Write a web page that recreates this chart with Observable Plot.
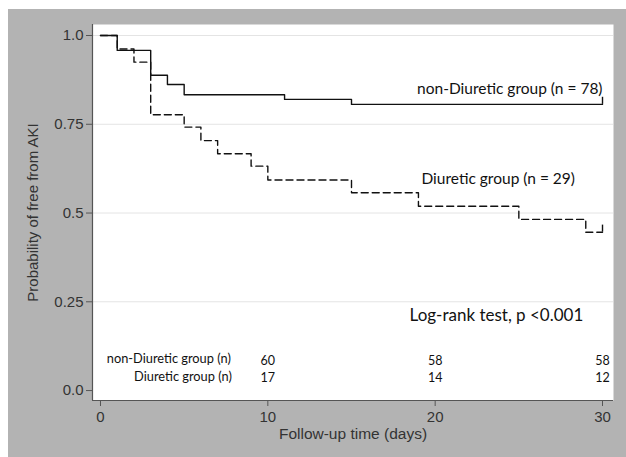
<!DOCTYPE html>
<html><head><meta charset="utf-8">
<script src="https://cdn.jsdelivr.net/npm/d3@7"></script>
<script src="https://cdn.jsdelivr.net/npm/@observablehq/plot@0.6"></script>
<style>
body{margin:0;background:#fff;}
#wrap{padding:9px 0 0 8px;}
</style></head><body><div id="wrap"></div>
<script>
// Kaplan-Meier step data (days, survival probability)
const nonDiureticTime = [0, 1, 3, 4, 5, 11, 15, 30];
const nonDiureticSurv = [1, 0.958, 0.888, 0.862, 0.833, 0.820, 0.806, 0.806];
const diureticTime = [0, 1, 2, 3, 5, 6, 7, 9, 10, 15, 19, 25, 29, 30];
const diureticSurv = [1, 0.962, 0.925, 0.777, 0.742, 0.704, 0.667, 0.632, 0.593, 0.557, 0.519, 0.482, 0.446, 0.446];
// censoring at end of follow-up
const censorTime = [30, 30];
const censorSurv = [0.806, 0.446];
// number at risk
const riskTimes = [10, 20, 30];
const riskNonDiuretic = [60, 58, 58];
const riskDiuretic = [17, 14, 12];
const riskRowLabels = ["non-Diuretic group (n)", "Diuretic group (n)"];
// axes
const xTicks = [0, 10, 20, 30];
const yTicks = [0, 0.25, 0.5, 0.75, 1];
const yTickLabels = ["0.0", "0.25", "0.5", "0.75", "1.0"];
const yGridValues = [0.25, 0.5, 0.75, 1];
const xLabel = "Follow-up time (days)";
const yLabel = "Probability of free from AKI";

const nonData = nonDiureticTime.map((t, i) => ({t, s: nonDiureticSurv[i]}));
const diuData = diureticTime.map((t, i) => ({t, s: diureticSurv[i]}));
const censorData = censorTime.map((t, i) => ({t, s: censorSurv[i]}));
const riskRow1 = riskTimes.map((t, i) => ({t, n: riskNonDiuretic[i]}));
const riskRow2 = riskTimes.map((t, i) => ({t, n: riskDiuretic[i]}));

const xMin = -0.478, xMax = 30.657, yMin = -0.028, yMax = 1.031;
const annFont = "Lato, 'Open Sans', sans-serif";
const ink = "#111";

const chart = Plot.plot({
  width: 618, height: 448,
  marginLeft: 84, marginRight: 13, marginTop: 15, marginBottom: 57,
  style: {background: "#b3b3b3", fontFamily: "'Liberation Sans', Arial, sans-serif", color: "#333", overflow: "visible"},
  x: {domain: [xMin, xMax]},
  y: {domain: [yMin, yMax]},
  marks: [
    Plot.frame({fill: "white", stroke: "none"}),
    Plot.ruleY(yGridValues, {stroke: "#e4e4e4", strokeWidth: 1}),
    Plot.ruleX([xMin], {stroke: "#555", strokeWidth: 1.2}),
    Plot.ruleY([yMin], {stroke: "#555", strokeWidth: 1.2}),
    Plot.axisY(yTicks, {tickFormat: d => yTickLabels[yTicks.indexOf(d)], tickSize: 6, tickPadding: 3, fontSize: 15, stroke: "#555", label: null}),
    Plot.axisX(xTicks, {tickSize: 6, tickPadding: 5, fontSize: 15, stroke: "#555", label: null}),
    Plot.text([yLabel], {frameAnchor: "left", dx: -59, rotate: -90, textAnchor: "middle", text: d => d, fontSize: 15, fill: "#333"}),
    Plot.text([xLabel], {frameAnchor: "bottom", dx: 0, dy: 38, textAnchor: "middle", text: d => d, fontSize: 15.5, fill: "#333"}),
    Plot.line(nonData, {x: "t", y: "s", curve: "step-after", stroke: ink, strokeWidth: 1.4}),
    Plot.line(diuData, {x: "t", y: "s", curve: "step-after", stroke: ink, strokeWidth: 1.4, strokeDasharray: "7,4"}),
    Plot.ruleX(censorData, {x: "t", y1: "s", y2: d => d.s + 0.02, stroke: ink, strokeWidth: 1.4}),
    Plot.text(["non-Diuretic group (n = 78)"], {x: 30, y: 0.848, text: d => d, textAnchor: "end", fontFamily: annFont, fontSize: 15.5, fill: ink}),
    Plot.text(["Diuretic group (n = 29)"], {x: 19.18, y: 0.597, text: d => d, textAnchor: "start", fontFamily: annFont, fontSize: 15.5, fill: ink}),
    Plot.text(["Log-rank test, p <0.001"], {x: 18.47, y: 0.211, text: d => d, textAnchor: "start", fontFamily: annFont, fontSize: 17, fill: ink}),
    Plot.text([riskRowLabels[0]], {x: 10, y: 0.088, text: d => d, textAnchor: "end", dx: -37, fontFamily: annFont, fontSize: 12.8, fill: ink}),
    Plot.text([riskRowLabels[1]], {x: 10, y: 0.038, text: d => d, textAnchor: "end", dx: -36, fontFamily: annFont, fontSize: 12.8, fill: ink}),
    Plot.text(riskRow1, {x: "t", y: 0.082, text: "n", fontFamily: annFont, fontSize: 12.5, fill: ink}),
    Plot.text(riskRow2, {x: "t", y: 0.034, text: "n", fontFamily: annFont, fontSize: 12.5, fill: ink})
  ]
});
document.getElementById("wrap").appendChild(chart);
</script></body></html>
